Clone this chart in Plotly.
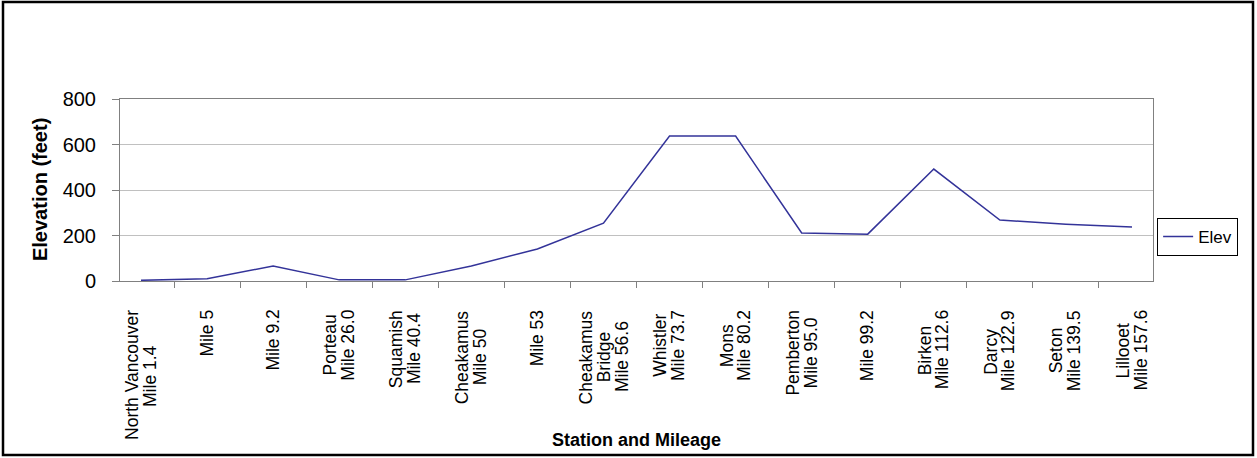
import plotly.graph_objects as go

# Station names with mileage (line breaks as printed under the axis)
stations = [
    "North Vancouver<br>Mile 1.4",
    "Mile 5",
    "Mile 9.2",
    "Porteau<br>Mile 26.0",
    "Squamish<br>Mile 40.4",
    "Cheakamus<br>Mile 50",
    "Mile 53",
    "Cheakamus<br>Bridge<br>Mile 56.6",
    "Whistler<br>Mile 73.7",
    "Mons<br>Mile 80.2",
    "Pemberton<br>Mile 95.0",
    "Mile 99.2",
    "Birken<br>Mile 112.6",
    "Darcy<br>Mile 122.9",
    "Seton<br>Mile 139.5",
    "Lillooet<br>Mile 157.6",
]

# Elevation in feet at each station
elev = [3, 10, 66, 5, 5, 66, 141, 254, 637, 637, 211, 206, 492, 268, 250, 237]

y_ticks = [0, 200, 400, 600, 800]

FONT = "Arial, Liberation Sans, Helvetica, sans-serif"
LINE_COLOR = "#333399"
GRID = "#c0c0c0"
AXIS = "#808080"

LABEL_SIZE = 17.5
LINE_GAP = 18  # px between stacked lines of a station label

# Approximate Arial advance widths (1/1000 em) used to centre the label lines
_W = {" ": 278, ".": 278, "B": 667, "C": 722, "L": 556, "M": 833, "N": 722,
      "P": 667, "S": 667, "V": 667, "W": 944, "a": 556, "b": 556, "c": 500,
      "d": 556, "e": 556, "g": 556, "h": 556, "i": 222, "k": 500, "l": 222,
      "m": 833, "n": 556, "o": 556, "q": 556, "r": 333, "s": 500, "t": 278,
      "u": 556, "v": 500, "y": 500}


def text_width(s, size):
    return sum(_W.get(ch, 556) for ch in s) * size / 1000.0


fig = go.Figure()
fig.add_trace(go.Scatter(
    x=stations, y=elev, mode="lines", name="Elev",
    line=dict(color=LINE_COLOR, width=1.5),
))

fig.update_xaxes(
    type="category",
    categoryorder="array", categoryarray=stations,
    showticklabels=False,
    ticks="outside", ticklen=6, tickcolor=AXIS, tickwidth=1,
    tickson="boundaries",
    showline=True, linecolor=AXIS, linewidth=1, mirror=True,
    showgrid=False, zeroline=False,
)
fig.update_yaxes(
    range=[0, 800], tickvals=y_ticks,
    ticks="outside", ticklen=7, tickcolor=AXIS, tickwidth=1,
    ticklabelstandoff=12,
    tickfont=dict(family=FONT, size=20, color="#000000"),
    showline=True, linecolor=AXIS, linewidth=1, mirror=True,
    showgrid=True, gridcolor=GRID, gridwidth=1, zeroline=False,
)

annotations = []
# Station labels: rotated, lines stacked tightly and centred on each other
for name in stations:
    lines = name.split("<br>")
    n = len(lines)
    widths = [text_width(s, LABEL_SIZE) for s in lines]
    wmax = max(widths)
    for i, (s, w) in enumerate(zip(lines, widths)):
        annotations.append(dict(
            x=name, xref="x", y=-0.148, yref="paper",
            text=s, textangle=-90, showarrow=False,
            xanchor="center", yanchor="top",
            xshift=(i - (n - 1) / 2) * LINE_GAP,
            yshift=-(wmax - w) / 2,
            font=dict(family=FONT, size=LABEL_SIZE, color="#000000"),
        ))
# Axis titles
annotations.append(dict(
    x=0.5, xref="paper", y=-0.874, yref="paper",
    text="<b>Station and Mileage</b>", showarrow=False,
    xanchor="center", yanchor="middle",
    font=dict(family=FONT, size=18, color="#000000"),
))
annotations.append(dict(
    x=-0.0774, xref="paper", y=0.5, yref="paper",
    text="<b>Elevation (feet)</b>", textangle=-90, showarrow=False,
    xanchor="center", yanchor="middle",
    font=dict(family=FONT, size=20, color="#000000"),
))

fig.update_layout(
    width=1257, height=458,
    margin=dict(l=120, r=104, t=99, b=177),
    paper_bgcolor="#ffffff", plot_bgcolor="#ffffff",
    showlegend=True,
    legend=dict(
        x=1.004, y=0.242, xanchor="left", yanchor="middle",
        bordercolor="#000000", borderwidth=1, bgcolor="#ffffff",
        font=dict(family=FONT, size=17, color="#000000"),
        itemwidth=30,
    ),
    annotations=annotations,
    shapes=[dict(
        type="rect", xref="paper", yref="paper",
        x0=(3 - 120) / 1033, x1=(1253 - 120) / 1033,
        y0=(281 - 455) / 182, y1=(281 - 2) / 182,
        line=dict(color="#000000", width=2.5), fillcolor="rgba(0,0,0,0)",
        layer="above",
    )],
)

fig.write_html("out.html")
